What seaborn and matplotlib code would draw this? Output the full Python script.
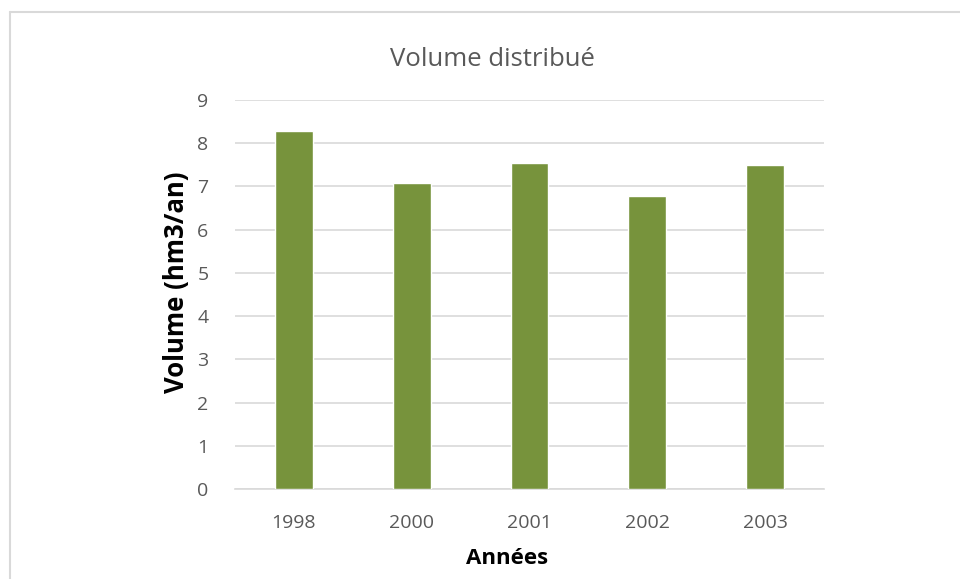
import matplotlib
matplotlib.use("Agg")
import matplotlib.pyplot as plt
import seaborn as sns
import pandas as pd
from matplotlib.lines import Line2D

# Distributed volume per year
annees = ["1998", "2000", "2001", "2002", "2003"]
volumes = [8.29, 7.07, 7.55, 6.77, 7.50]

df = pd.DataFrame({"Années": annees, "Volume": volumes})

sns.set_theme(style="white")
plt.rcParams["font.family"] = ["Open Sans", "DejaVu Sans"]

W, H = 960, 579
fig = plt.figure(figsize=(W / 100, H / 100), dpi=100)
ax = fig.add_axes([235 / W, 1 - 489 / H, (824 - 235) / W, (489 - 100) / H])

sns.barplot(data=df, x="Années", y="Volume", color="#77933C", width=0.32,
            saturation=1, ax=ax, zorder=3)

ax.set_ylim(0, 9)
ax.set_yticks(range(0, 10))
ax.yaxis.grid(True, color="#D9D9D9", linewidth=1.2, zorder=0)
ax.set_axisbelow(True)
for side in ["top", "right", "left"]:
    ax.spines[side].set_visible(False)
ax.spines["bottom"].set_color("#D9D9D9")
ax.spines["bottom"].set_linewidth(1.2)
ax.tick_params(axis="both", length=0, labelsize=14, colors="#595959")
ax.tick_params(axis="x", pad=18)
ax.tick_params(axis="y", pad=19)

ax.set_xlabel("Années", fontsize=16, fontweight="bold", color="black")
ax.set_ylabel("Volume (hm3/an)", fontsize=18.5, fontweight="bold", color="black")
ax.xaxis.set_label_coords(0.462, -0.152)
ax.yaxis.set_label_coords(-0.077, 0.532)

fig.text(492 / W, 1 - 59 / H, "Volume distribué", ha="center", va="center",
         fontsize=18.5, color="#595959")

# Chart frame edges
fig.add_artist(Line2D([9.5 / W, 1], [1 - 12 / H, 1 - 12 / H], color="#D9D9D9",
                      linewidth=1.5, transform=fig.transFigure))
fig.add_artist(Line2D([9.5 / W, 9.5 / W], [0, 1 - 12 / H], color="#D9D9D9",
                      linewidth=1.5, transform=fig.transFigure))

fig.savefig("out.png", dpi=100)
